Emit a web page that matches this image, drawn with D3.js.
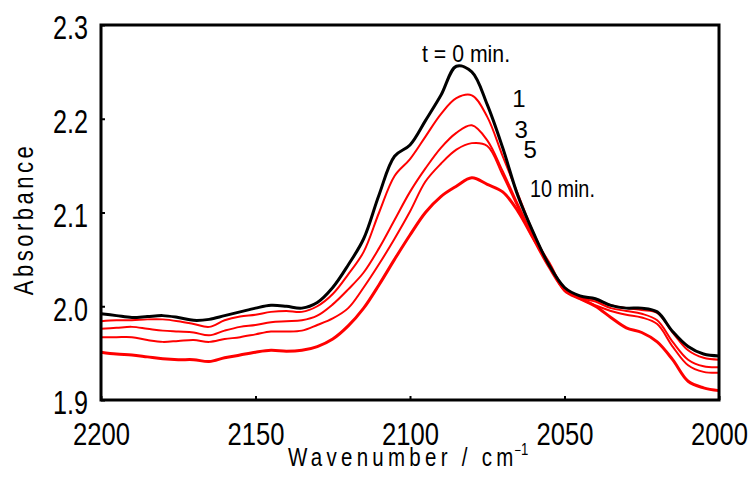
<!DOCTYPE html>
<html>
<head>
<meta charset="utf-8">
<script src="https://cdn.jsdelivr.net/npm/d3@7/dist/d3.min.js"></script>
<style>
  html, body { margin: 0; padding: 0; background: #fff; }
  svg { display: block; }
  text { font-family: "Liberation Sans", "DejaVu Sans", sans-serif; fill: #000; }
</style>
</head>
<body>
<svg id="chart" width="753" height="485"></svg>
<script>
// ---- data ----
const wavenumbers = [2200,2195,2190,2185,2180,2175,2170,2165,2160,2155,2150,2145,2140,2135,2130,2125,2120,2115,2110,2105,2100,2095,2090,2085,2080,2075,2070,2065,2060,2055,2050,2045,2040,2035,2030,2025,2020,2015,2010,2005,2000];

const absT0 = [1.992,1.990,1.988,1.989,1.990,1.988,1.985,1.986,1.990,1.994,1.998,2.001,2.000,1.998,2.004,2.020,2.044,2.072,2.119,2.160,2.172,2.198,2.225,2.256,2.250,2.215,2.169,2.117,2.078,2.044,2.020,2.011,2.008,2.001,1.998,1.998,1.994,1.973,1.957,1.949,1.947];
const absT1 = [1.984,1.985,1.985,1.986,1.986,1.984,1.981,1.978,1.985,1.989,1.991,1.994,1.995,1.994,2.000,2.013,2.034,2.058,2.100,2.139,2.157,2.181,2.205,2.222,2.225,2.202,2.160,2.119,2.078,2.045,2.020,2.010,2.007,2.001,1.998,1.996,1.993,1.972,1.953,1.945,1.943];
const absT3 = [1.976,1.977,1.978,1.976,1.974,1.973,1.972,1.969,1.974,1.978,1.980,1.983,1.984,1.985,1.990,2.002,2.018,2.036,2.062,2.092,2.122,2.147,2.169,2.185,2.193,2.177,2.144,2.108,2.074,2.043,2.018,2.009,2.005,1.998,1.995,1.992,1.985,1.962,1.943,1.936,1.935];
const absT5 = [1.967,1.967,1.967,1.964,1.962,1.963,1.964,1.962,1.965,1.967,1.970,1.973,1.973,1.974,1.980,1.987,1.998,2.020,2.045,2.072,2.101,2.133,2.152,2.167,2.174,2.171,2.140,2.105,2.071,2.041,2.017,2.008,2.001,1.995,1.991,1.988,1.981,1.957,1.937,1.930,1.929];
const absT10 = [1.951,1.949,1.948,1.946,1.944,1.943,1.943,1.941,1.945,1.948,1.951,1.953,1.952,1.953,1.957,1.965,1.979,1.998,2.023,2.050,2.076,2.100,2.117,2.128,2.137,2.130,2.122,2.101,2.072,2.046,2.017,2.008,2.000,1.988,1.977,1.972,1.962,1.943,1.920,1.913,1.910];

const seriesNames = ["t0","t1","t3","t5","t10"];
const seriesColors = ["#000000","#ff0000","#ff0000","#ff0000","#ff0000"];
const seriesWidths = [3, 2, 2, 2, 3];

const xTicks = [2200, 2150, 2100, 2050, 2000];
const yTicks = [1.9, 2.0, 2.1, 2.2, 2.3];
const xTickLabels = ["2200","2150","2100","2050","2000"];
const yTickLabels = ["1.9","2.0","2.1","2.2","2.3"];

const annotationTexts = ["t = 0 min.", "1", "3", "5", "10 min."];
const annotationW = [2096.1, 2066.9, 2066.2, 2063.3, 2061.2];
const annotationA = [2.2605, 2.2125, 2.1795, 2.1581, 2.1165];

// ---- layout ----
const W = 753, H = 485;
const margin = {left: 101, top: 25, right: W - 719, bottom: H - 400};
const svg = d3.select("#chart");

const x = d3.scaleLinear().domain([2200, 2000]).range([margin.left, W - margin.right]);
const y = d3.scaleLinear().domain([1.9, 2.3]).range([H - margin.bottom, margin.top]);

const seriesData = [absT0, absT1, absT3, absT5, absT10];

const line = d3.line()
  .x((d, i) => x(wavenumbers[i]))
  .y(d => y(d))
  .curve(d3.curveCatmullRom.alpha(0.5));

const order = [4, 3, 2, 1, 0];
svg.append("g")
  .selectAll("path")
  .data(order)
  .join("path")
  .attr("d", i => line(seriesData[i]))
  .attr("fill", "none")
  .attr("stroke", i => seriesColors[i])
  .attr("stroke-width", i => seriesWidths[i])
  .attr("stroke-linejoin", "round");

// frame
svg.append("rect")
  .attr("x", x(2200))
  .attr("y", y(2.3))
  .attr("width", x(2000) - x(2200))
  .attr("height", y(1.9) - y(2.3))
  .attr("fill", "none")
  .attr("stroke", "#000")
  .attr("stroke-width", 3);

// axes
const xAxis = d3.axisBottom(x).tickValues(xTicks).tickSize(-4).tickSizeOuter(0)
  .tickFormat((d, i) => xTickLabels[i]);
const gx = svg.append("g").attr("transform", `translate(0,${y(1.9)})`).call(xAxis);
gx.select(".domain").remove();
gx.selectAll(".tick line").attr("stroke", "#000").attr("stroke-width", 2);
gx.selectAll(".tick text")
  .attr("font-size", 31).attr("dy", 0).attr("y", 45)
  .attr("textLength", 57).attr("lengthAdjust", "spacingAndGlyphs")
  .attr("font-family", "Liberation Sans, sans-serif");

const yAxis = d3.axisLeft(y).tickValues(yTicks).tickSize(-4).tickSizeOuter(0)
  .tickFormat((d, i) => yTickLabels[i]);
const gy = svg.append("g").attr("transform", `translate(${x(2200)},0)`).call(yAxis);
gy.select(".domain").remove();
gy.selectAll(".tick line").attr("stroke", "#000").attr("stroke-width", 2);
gy.selectAll(".tick text")
  .attr("font-size", 33).attr("x", -13).attr("dy", "0.42em")
  .attr("textLength", 35).attr("lengthAdjust", "spacingAndGlyphs")
  .attr("font-family", "Liberation Sans, sans-serif");

// axis titles
const xt = svg.append("g").attr("transform", "translate(288,466) scale(0.82,1)")
  .append("text")
  .attr("font-size", 25)
  .attr("letter-spacing", 5.2);
xt.append("tspan").text("Wavenumber / cm");
xt.append("tspan").text("\u2212").attr("font-size", 14).attr("dy", -11).attr("letter-spacing", 0).attr("dx", -4);
xt.append("tspan").text("1").attr("font-size", 16).attr("letter-spacing", 0);

svg.append("g").attr("transform", "translate(33,219) rotate(-90) scale(0.82,1)")
  .append("text")
  .attr("text-anchor", "middle")
  .attr("font-size", 27)
  .attr("letter-spacing", 4.2)
  .text("Absorbance");

// annotations
const annWidths = [88, null, null, null, 65];
svg.append("g").selectAll("text")
  .data(annotationTexts)
  .join("text")
  .attr("x", (d, i) => x(annotationW[i]))
  .attr("y", (d, i) => y(annotationA[i]))
  .attr("font-size", 24)
  .each(function(d, i) {
    if (annWidths[i]) d3.select(this).attr("textLength", annWidths[i]).attr("lengthAdjust", "spacingAndGlyphs");
  })
  .text(d => d);
</script>
</body>
</html>
